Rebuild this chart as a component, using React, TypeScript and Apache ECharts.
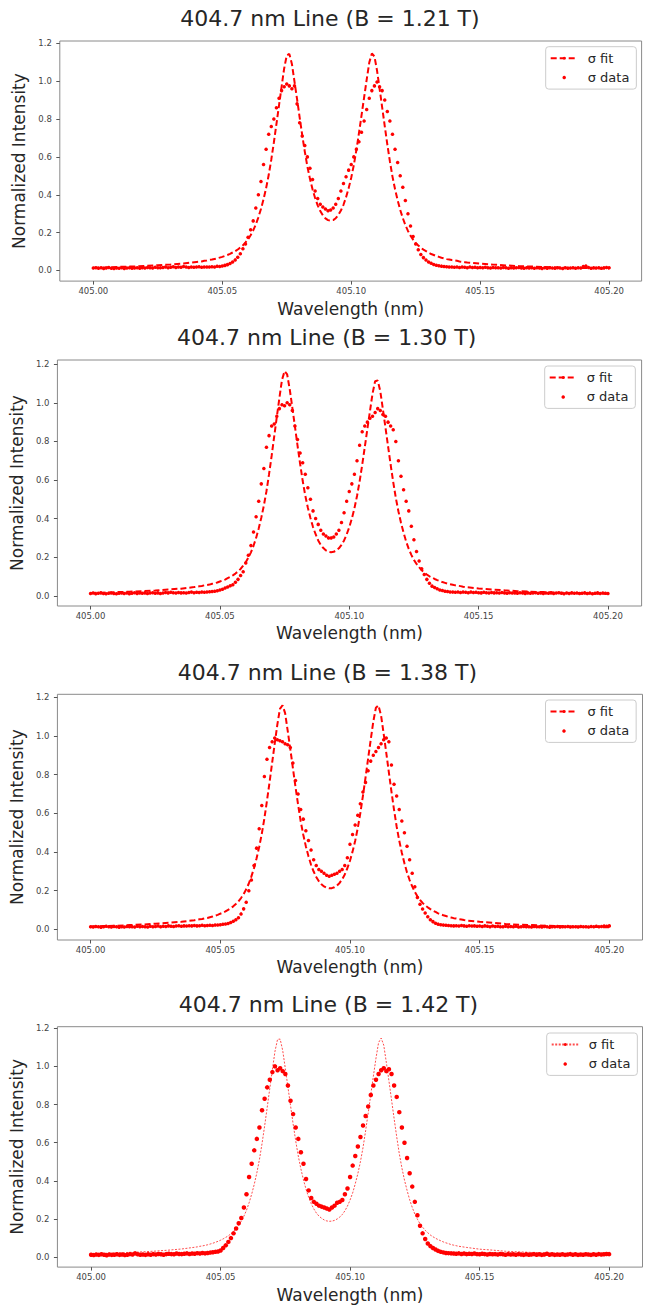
import React, { useEffect, useRef } from "react";
import * as echarts from "echarts";

// ---------- data ----------
const X_START = 405.0; // first spectrometer sample (nm)
const X_STEP = 0.001; // sampling step (nm)

const TITLES = [
  "404.7 nm Line (B = 1.21 T)",
  "404.7 nm Line (B = 1.30 T)",
  "404.7 nm Line (B = 1.38 T)",
  "404.7 nm Line (B = 1.42 T)",
];
const X_TICKS = [405.0, 405.05, 405.1, 405.15, 405.2];
const Y_TICKS = [0, 0.2, 0.4, 0.6, 0.8, 1.0, 1.2];
const X_NAME = "Wavelength (nm)";
const Y_NAME = "Normalized Intensity";
const FIT_NAME = "σ fit";
const DATA_NAME = "σ data";

// fit sample positions, in 0.001 nm from 405.000
const FIT_OFFSETS = [
  0, 5, 10, 15, 20, 25, 30, 35,
  40, 41, 42, 43, 44, 45, 46, 47, 48, 49,
  50, 51, 52, 53, 54, 55, 56, 57, 58, 59,
  60, 61, 62, 63, 64, 65, 66, 67, 68, 69,
  70, 71, 72, 73, 74, 75, 76, 77, 78, 79,
  80, 81, 82, 83, 84, 85, 86, 87, 88, 89,
  90, 91, 92, 93, 94, 95, 96, 97, 98, 99,
  100, 101, 102, 103, 104, 105, 106, 107, 108, 109,
  110, 111, 112, 113, 114, 115, 116, 117, 118, 119,
  120, 121, 122, 123, 124, 125, 126, 127, 128, 129,
  130, 131, 132, 133, 134, 135, 136, 137, 138, 139,
  140, 141, 142, 143, 144, 145,
  150, 155, 160, 165, 170, 175, 180, 185, 190, 195, 200,
];

const FIT_1 = [
  0.015, 0.016, 0.019, 0.021, 0.024, 0.028, 0.032, 0.037,
  0.045, 0.046, 0.048, 0.051, 0.053, 0.056, 0.058, 0.061, 0.064, 0.068,
  0.072, 0.077, 0.082, 0.088, 0.095, 0.102, 0.111, 0.121, 0.133, 0.148,
  0.165, 0.186, 0.212, 0.243, 0.281, 0.325, 0.376, 0.435, 0.504, 0.585,
  0.676, 0.773, 0.872, 0.97, 1.067, 1.136, 1.144, 1.091, 0.998, 0.905,
  0.809, 0.715, 0.628, 0.549, 0.484, 0.429, 0.383, 0.344, 0.314, 0.291,
  0.275, 0.266, 0.264, 0.266, 0.276, 0.293, 0.317, 0.347, 0.387, 0.434,
  0.49, 0.556, 0.636, 0.725, 0.819, 0.914, 1.008, 1.098, 1.146, 1.131,
  1.057, 0.961, 0.862, 0.763, 0.666, 0.576, 0.496, 0.429, 0.371, 0.32,
  0.277, 0.24, 0.209, 0.184, 0.163, 0.146, 0.132, 0.12, 0.11, 0.102,
  0.094, 0.087, 0.082, 0.076, 0.072, 0.067, 0.064, 0.06, 0.058, 0.055,
  0.053, 0.051, 0.048, 0.046, 0.044, 0.042,
  0.036, 0.031, 0.027, 0.023, 0.021, 0.018, 0.016, 0.014, 0.013, 0.012, 0.01,
];
const FIT_2 = [
  0.015, 0.016, 0.019, 0.021, 0.024, 0.027, 0.033, 0.037,
  0.045, 0.047, 0.049, 0.051, 0.054, 0.056, 0.058, 0.062, 0.065, 0.069,
  0.074, 0.079, 0.084, 0.091, 0.098, 0.106, 0.115, 0.126, 0.139, 0.156,
  0.174, 0.198, 0.225, 0.259, 0.3, 0.349, 0.404, 0.468, 0.542, 0.63,
  0.725, 0.826, 0.927, 1.025, 1.119, 1.164, 1.147, 1.07, 0.975, 0.878,
  0.779, 0.685, 0.596, 0.52, 0.456, 0.403, 0.356, 0.319, 0.287, 0.264,
  0.247, 0.235, 0.228, 0.226, 0.228, 0.235, 0.246, 0.264, 0.287, 0.318,
  0.355, 0.4, 0.453, 0.517, 0.592, 0.678, 0.77, 0.864, 0.956, 1.048,
  1.112, 1.116, 1.06, 0.967, 0.872, 0.775, 0.679, 0.589, 0.507, 0.438,
  0.378, 0.327, 0.281, 0.243, 0.212, 0.186, 0.165, 0.148, 0.132, 0.12,
  0.11, 0.101, 0.094, 0.087, 0.081, 0.076, 0.071, 0.067, 0.063, 0.06,
  0.057, 0.054, 0.052, 0.05, 0.047, 0.045,
  0.038, 0.033, 0.028, 0.024, 0.021, 0.019, 0.016, 0.015, 0.013, 0.012, 0.011,
];
const FIT_3 = [
  0.015, 0.017, 0.019, 0.022, 0.025, 0.029, 0.034, 0.039,
  0.047, 0.05, 0.052, 0.054, 0.057, 0.059, 0.063, 0.066, 0.071, 0.075,
  0.081, 0.086, 0.093, 0.101, 0.109, 0.119, 0.131, 0.145, 0.162, 0.182,
  0.207, 0.237, 0.274, 0.316, 0.368, 0.426, 0.494, 0.573, 0.665, 0.761,
  0.862, 0.962, 1.059, 1.14, 1.159, 1.118, 1.026, 0.932, 0.834, 0.736,
  0.645, 0.559, 0.489, 0.429, 0.378, 0.334, 0.299, 0.271, 0.249, 0.233,
  0.222, 0.215, 0.212, 0.213, 0.218, 0.227, 0.24, 0.259, 0.284, 0.316,
  0.355, 0.402, 0.457, 0.523, 0.601, 0.69, 0.785, 0.883, 0.98, 1.074,
  1.146, 1.158, 1.106, 1.011, 0.913, 0.812, 0.712, 0.618, 0.532, 0.459,
  0.396, 0.342, 0.294, 0.255, 0.222, 0.194, 0.171, 0.153, 0.137, 0.124,
  0.114, 0.105, 0.097, 0.09, 0.083, 0.078, 0.073, 0.069, 0.064, 0.061,
  0.058, 0.056, 0.053, 0.051, 0.048, 0.046,
  0.039, 0.034, 0.028, 0.024, 0.022, 0.019, 0.017, 0.015, 0.014, 0.012, 0.011,
];
const FIT_4 = [
  0.018, 0.02, 0.023, 0.025, 0.028, 0.032, 0.037, 0.043,
  0.052, 0.054, 0.057, 0.059, 0.062, 0.065, 0.069, 0.073, 0.078, 0.083,
  0.089, 0.096, 0.104, 0.112, 0.123, 0.135, 0.15, 0.167, 0.189, 0.215,
  0.246, 0.285, 0.33, 0.382, 0.442, 0.512, 0.595, 0.687, 0.785, 0.885,
  0.982, 1.079, 1.142, 1.143, 1.082, 0.988, 0.892, 0.795, 0.699, 0.61,
  0.53, 0.463, 0.405, 0.356, 0.314, 0.28, 0.253, 0.231, 0.215, 0.204,
  0.195, 0.19, 0.188, 0.189, 0.193, 0.2, 0.21, 0.224, 0.243, 0.268,
  0.3, 0.337, 0.385, 0.438, 0.501, 0.575, 0.663, 0.756, 0.853, 0.95,
  1.043, 1.125, 1.148, 1.111, 1.02, 0.924, 0.825, 0.726, 0.631, 0.542,
  0.468, 0.404, 0.35, 0.301, 0.261, 0.226, 0.199, 0.175, 0.157, 0.141,
  0.128, 0.116, 0.107, 0.099, 0.092, 0.086, 0.08, 0.075, 0.071, 0.066,
  0.063, 0.06, 0.057, 0.055, 0.053, 0.051,
  0.042, 0.037, 0.031, 0.028, 0.025, 0.022, 0.02, 0.018, 0.017, 0.015, 0.014,
];

// measured intensities, one per 0.001 nm from 405.000 to 405.200
const DATA_1 = [
  0.013, 0.015, 0.012, 0.014, 0.011, 0.013, 0.016, 0.012, 0.01, 0.013,
  0.012, 0.014, 0.011, 0.013, 0.015, 0.012, 0.013, 0.014, 0.012, 0.015,
  0.013, 0.016, 0.014, 0.013, 0.017, 0.015, 0.014, 0.016, 0.018, 0.015,
  0.017, 0.02, 0.016, 0.019, 0.017, 0.021, 0.018, 0.016, 0.019, 0.017,
  0.018, 0.02, 0.017, 0.019, 0.018,
  0.018, 0.02, 0.019, 0.022, 0.021,
  0.024, 0.027, 0.031, 0.037, 0.045, 0.056, 0.07, 0.088, 0.115, 0.14,
  0.175, 0.215, 0.262, 0.33, 0.4, 0.47, 0.56, 0.64, 0.72, 0.76,
  0.8, 0.86, 0.91, 0.95, 0.97, 0.985, 0.975, 0.96, 0.975, 0.88,
  0.78, 0.71, 0.66, 0.6, 0.54, 0.48, 0.42, 0.38, 0.35, 0.335,
  0.325, 0.315, 0.32, 0.33, 0.35, 0.38, 0.42, 0.46, 0.495, 0.53,
  0.56, 0.6, 0.64, 0.68, 0.73, 0.79, 0.85, 0.91, 0.95, 0.975,
  0.995, 0.97, 0.95, 0.9, 0.84, 0.79, 0.72, 0.64, 0.57, 0.5,
  0.44, 0.37, 0.3, 0.235, 0.18, 0.14, 0.11, 0.085, 0.068, 0.055,
  0.045, 0.038, 0.032, 0.028, 0.025, 0.023, 0.021, 0.02, 0.019, 0.018,
  0.017, 0.018, 0.016, 0.019, 0.017, 0.015, 0.018, 0.016, 0.017, 0.015,
  0.016, 0.014, 0.017, 0.015, 0.013, 0.016, 0.014, 0.015, 0.013, 0.016,
  0.014, 0.012, 0.015, 0.013, 0.014, 0.016, 0.013, 0.012, 0.015, 0.013,
  0.014, 0.012, 0.015, 0.013, 0.011, 0.014, 0.012, 0.015, 0.013, 0.012,
  0.014, 0.013, 0.011, 0.014, 0.012, 0.013, 0.015, 0.012, 0.014, 0.013,
  0.021, 0.024, 0.016, 0.012, 0.014, 0.013, 0.015, 0.012, 0.014, 0.016, 0.015,
];
const DATA_2 = [
  0.012, 0.014, 0.011, 0.013, 0.015, 0.012, 0.01, 0.013, 0.014, 0.012,
  0.011, 0.013, 0.015, 0.012, 0.014, 0.011, 0.013, 0.016, 0.012, 0.014,
  0.013, 0.015, 0.012, 0.014, 0.016, 0.013, 0.015, 0.012, 0.014, 0.017,
  0.015, 0.018, 0.016, 0.014, 0.017, 0.015, 0.016, 0.014, 0.017, 0.019,
  0.016, 0.018, 0.017, 0.019, 0.018,
  0.02, 0.021, 0.022, 0.024, 0.026,
  0.03, 0.034, 0.04, 0.046, 0.052, 0.057, 0.07, 0.085, 0.105, 0.125,
  0.17, 0.21, 0.26, 0.33, 0.41, 0.49, 0.58, 0.66, 0.77, 0.83,
  0.88, 0.89, 0.93, 0.97, 0.99, 0.985, 1.0, 0.99, 0.96, 0.88,
  0.81, 0.74, 0.69, 0.63, 0.56, 0.5, 0.44, 0.4, 0.37, 0.34,
  0.32, 0.31, 0.3, 0.3, 0.305, 0.32, 0.34, 0.38, 0.43, 0.49,
  0.54, 0.58, 0.63, 0.7, 0.78, 0.85, 0.88, 0.9, 0.92, 0.93,
  0.95, 0.97, 0.96, 0.94, 0.93, 0.9, 0.88, 0.86, 0.8, 0.7,
  0.62, 0.55, 0.49, 0.44, 0.36, 0.29, 0.23, 0.18, 0.14, 0.11,
  0.085, 0.065, 0.05, 0.043, 0.036, 0.03, 0.027, 0.024, 0.022, 0.02,
  0.019, 0.018, 0.02, 0.017, 0.019, 0.018, 0.016, 0.019, 0.017, 0.018,
  0.016, 0.015, 0.018, 0.016, 0.014, 0.017, 0.015, 0.016, 0.014, 0.017,
  0.015, 0.013, 0.016, 0.014, 0.015, 0.013, 0.016, 0.014, 0.012, 0.015,
  0.013, 0.014, 0.016, 0.013, 0.015, 0.012, 0.014, 0.013, 0.015, 0.012,
  0.014, 0.016, 0.013, 0.011, 0.014, 0.012, 0.015, 0.013, 0.014, 0.012,
  0.013, 0.015, 0.012, 0.014, 0.011, 0.013, 0.015, 0.012, 0.014, 0.013, 0.012,
];
const DATA_3 = [
  0.014, 0.012, 0.015, 0.013, 0.011, 0.014, 0.016, 0.013, 0.012, 0.015,
  0.013, 0.011, 0.014, 0.012, 0.015, 0.013, 0.014, 0.012, 0.016, 0.013,
  0.015, 0.014, 0.012, 0.016, 0.014, 0.015, 0.017, 0.014, 0.016, 0.015,
  0.018, 0.016, 0.015, 0.017, 0.019, 0.016, 0.018, 0.017, 0.019, 0.018,
  0.02, 0.018, 0.019, 0.021, 0.019,
  0.02, 0.021, 0.02, 0.022, 0.023,
  0.024, 0.026, 0.028, 0.03, 0.036, 0.042, 0.05, 0.06, 0.08, 0.106,
  0.14, 0.2, 0.255, 0.33, 0.42, 0.52, 0.64, 0.79, 0.88, 0.94,
  0.97, 0.99, 0.98, 0.975, 0.97, 0.96, 0.955, 0.94, 0.86, 0.77,
  0.7, 0.62, 0.57, 0.51, 0.46, 0.41, 0.36, 0.33, 0.31, 0.3,
  0.29, 0.28, 0.275, 0.28, 0.285, 0.29, 0.3, 0.31, 0.33, 0.37,
  0.44, 0.49, 0.54, 0.59, 0.65, 0.71, 0.76, 0.82, 0.87, 0.9,
  0.92, 0.94, 0.96, 0.98, 0.99, 0.97, 0.85, 0.75, 0.69, 0.62,
  0.56, 0.5, 0.43, 0.36, 0.29, 0.22, 0.165, 0.13, 0.105, 0.085,
  0.065, 0.05, 0.04, 0.032, 0.027, 0.024, 0.022, 0.021, 0.02, 0.019,
  0.018, 0.019, 0.017, 0.02, 0.018, 0.016, 0.019, 0.017, 0.018, 0.016,
  0.017, 0.015, 0.018, 0.016, 0.014, 0.017, 0.015, 0.016, 0.014, 0.013,
  0.016, 0.014, 0.015, 0.013, 0.016, 0.012, 0.014, 0.015, 0.013, 0.014,
  0.012, 0.015, 0.013, 0.014, 0.012, 0.015, 0.013, 0.011, 0.014, 0.013,
  0.015, 0.012, 0.014, 0.013, 0.015, 0.012, 0.013, 0.014, 0.012, 0.015,
  0.013, 0.014, 0.012, 0.015, 0.013, 0.016, 0.014, 0.015, 0.017, 0.016, 0.018,
];
const DATA_4 = [
  0.013, 0.011, 0.014, 0.012, 0.015, 0.013, 0.01, 0.014, 0.012, 0.013,
  0.015, 0.012, 0.014, 0.011, 0.013, 0.016, 0.014, 0.02, 0.015, 0.013,
  0.014, 0.012, 0.015, 0.013, 0.016, 0.014, 0.017, 0.015, 0.013, 0.016,
  0.018, 0.016, 0.015, 0.019, 0.017, 0.016, 0.018, 0.02, 0.017, 0.019,
  0.018, 0.021, 0.019, 0.022, 0.02,
  0.022, 0.024, 0.026, 0.028, 0.03,
  0.035, 0.048, 0.062, 0.08, 0.1, 0.125, 0.15, 0.178, 0.205, 0.26,
  0.33, 0.42, 0.49, 0.56, 0.62, 0.68, 0.77, 0.83, 0.89, 0.93,
  0.97, 1.0, 0.98, 0.99, 0.975, 0.96, 0.9, 0.82, 0.75, 0.68,
  0.62, 0.55, 0.49, 0.41, 0.35, 0.31, 0.29, 0.28, 0.27, 0.265,
  0.26, 0.255, 0.25, 0.26, 0.27, 0.285, 0.29, 0.3, 0.33, 0.36,
  0.42, 0.48, 0.53, 0.58, 0.63, 0.69, 0.74, 0.79, 0.85, 0.9,
  0.93, 0.96, 0.98, 0.99, 0.975, 0.985, 0.96, 0.9, 0.84, 0.76,
  0.68, 0.6, 0.52, 0.44, 0.37, 0.29, 0.22, 0.165, 0.125, 0.095,
  0.072, 0.058, 0.048, 0.04, 0.033, 0.028, 0.025, 0.022, 0.021, 0.02,
  0.019, 0.018, 0.02, 0.017, 0.019, 0.016, 0.018, 0.017, 0.019, 0.016,
  0.015, 0.018, 0.016, 0.014, 0.017, 0.015, 0.016, 0.014, 0.017, 0.015,
  0.013, 0.016, 0.014, 0.015, 0.013, 0.016, 0.014, 0.012, 0.015, 0.013,
  0.014, 0.016, 0.013, 0.015, 0.012, 0.014, 0.018, 0.013, 0.015, 0.012,
  0.014, 0.013, 0.015, 0.012, 0.014, 0.016, 0.013, 0.015, 0.012, 0.014,
  0.013, 0.015, 0.014, 0.012, 0.015, 0.013, 0.016, 0.014, 0.015, 0.017, 0.016,
];

const FITS = [FIT_1, FIT_2, FIT_3, FIT_4];
const DATAS = [DATA_1, DATA_2, DATA_3, DATA_4];

// ---------- layout (page pixels) ----------
type Layout = {
  top: number; height: number; titleX: number; titleY: number;
  gl: number; gt: number; gr: number; gb: number;
  xMin: number; xMax: number; yMin: number; yMax: number;
  legL: number; legT: number; yNameX: number; xNameY: number;
  fitWidth: number; fitDash: number[]; fitOpacity: number; dot: number;
};
const LAYOUTS: Layout[] = [
  { top: 0, height: 322, titleX: 330, titleY: 18, gl: 59.8, gt: 41, gr: 641.6, gb: 283.3,
    xMin: 404.987, xMax: 405.2126, yMin: -0.056, yMax: 1.212, legL: 545.7, legT: 46.7,
    yNameX: 24.8, xNameY: 308.3, fitWidth: 2, fitDash: [6, 3], fitOpacity: 1, dot: 3.5 },
  { top: 322, height: 333, titleX: 326.6, titleY: 337.5, gl: 52.4, gt: 360, gr: 641.6, gb: 606,
    xMin: 404.9872, xMax: 405.213, yMin: -0.053, yMax: 1.222, legL: 544.7, legT: 366,
    yNameX: 17.7, xNameY: 631.7, fitWidth: 2, fitDash: [6, 3], fitOpacity: 1, dot: 3.5 },
  { top: 655, height: 330, titleX: 327.4, titleY: 672.7, gl: 52.4, gt: 694.3, gr: 642.5, gb: 940,
    xMin: 404.9872, xMax: 405.2128, yMin: -0.055, yMax: 1.2155, legL: 545.5, legT: 700,
    yNameX: 18.6, xNameY: 965, fitWidth: 2, fitDash: [6, 3], fitOpacity: 1, dot: 3.5 },
  { top: 985, height: 323, titleX: 328.5, titleY: 1004, gl: 54.9, gt: 1026.7, gr: 642.5, gb: 1269.3,
    xMin: 404.987, xMax: 405.2129, yMin: -0.052, yMax: 1.208, legL: 546.7, legT: 1033,
    yNameX: 21, xNameY: 1295, fitWidth: 1, fitDash: [2, 1.5], fitOpacity: 0.7, dot: 4.5 },
];

const FONT = "'DejaVu Sans', 'Noto Sans', sans-serif";
const RED = "#ff0000";
const TEXT = "#262626";

function Panel({ idx }: { idx: number }) {
  const ref = useRef<HTMLDivElement>(null);
  const L = LAYOUTS[idx];
  useEffect(() => {
    if (!ref.current) return;
    const chart = echarts.init(ref.current, null, { renderer: "svg" });
    const T = L.top;
    const dataPts = DATAS[idx].map((v, i) => [X_START + i * X_STEP, v]);
    const fitPts = FITS[idx].map((v, i) => [X_START + FIT_OFFSETS[i] * X_STEP, v]);
    const nameFont = 17;
    chart.setOption({
      animation: false,
      title: {
        text: TITLES[idx],
        left: L.titleX,
        top: L.titleY - T - 11,
        textAlign: "center",
        padding: 0,
        textStyle: { fontFamily: FONT, fontSize: 22, fontWeight: "normal", color: TEXT },
      },
      grid: {
        left: L.gl, top: L.gt - T, width: L.gr - L.gl, height: L.gb - L.gt,
        show: true, borderColor: "#8a8a8a", borderWidth: 1, backgroundColor: "transparent",
        containLabel: false,
      },
      legend: {
        orient: "vertical",
        left: L.legL,
        top: L.legT - T,
        padding: [5, 7, 5, 4],
        itemWidth: 27,
        itemHeight: 3.5,
        itemGap: 6.4,
        selectedMode: false,
        backgroundColor: "rgba(255,255,255,0.85)",
        borderColor: "#cccccc",
        borderWidth: 1,
        borderRadius: 3,
        textStyle: { fontFamily: FONT, fontSize: 13, color: TEXT, padding: [0, 0, 0, 5] },
        data: [FIT_NAME, DATA_NAME],
      },
      xAxis: {
        type: "value",
        min: L.xMin,
        max: L.xMax,
        splitLine: { show: false },
        axisLine: { show: false, onZero: false },
        axisTick: { show: true, inside: false, length: 3.5, lineStyle: { color: "#555" }, customValues: X_TICKS },
        axisLabel: {
          customValues: X_TICKS,
          formatter: (v: number) => v.toFixed(2),
          fontSize: 8.5, color: "#444", margin: 5, fontFamily: FONT,
        },
        name: X_NAME,
        nameLocation: "middle",
        nameGap: L.xNameY - L.gb - nameFont / 2,
        nameTextStyle: { fontSize: nameFont, color: TEXT, fontFamily: FONT },
      },
      yAxis: {
        type: "value",
        min: L.yMin,
        max: L.yMax,
        splitLine: { show: false },
        axisLine: { show: false, onZero: false },
        axisTick: { show: true, inside: false, length: 3.5, lineStyle: { color: "#555" }, customValues: Y_TICKS },
        axisLabel: {
          customValues: Y_TICKS,
          formatter: (v: number) => v.toFixed(1),
          fontSize: 8.5, color: "#444", margin: 8, fontFamily: FONT,
        },
        name: Y_NAME,
        nameLocation: "middle",
        nameGap: L.gl - L.yNameX - nameFont / 2,
        nameTextStyle: { fontSize: nameFont, color: TEXT, fontFamily: FONT },
      },
      series: [
        {
          name: FIT_NAME,
          type: "line",
          data: fitPts,
          symbol: "none",
          showSymbol: false,
          clip: true,
          z: 2,
          itemStyle: { color: RED },
          lineStyle: { color: RED, width: L.fitWidth, type: L.fitDash, opacity: L.fitOpacity },
        },
        {
          name: DATA_NAME,
          type: "scatter",
          data: dataPts,
          symbol: "circle",
          symbolSize: L.dot,
          clip: true,
          z: 3,
          itemStyle: { color: RED, opacity: 1 },
        },
      ],
    });
    return () => chart.dispose();
  }, [idx]);
  return (
    <div
      ref={ref}
      style={{ position: "absolute", left: 0, top: L.top, width: 647, height: L.height }}
    />
  );
}

export default function App() {
  return (
    <div style={{ position: "absolute", left: 0, top: 0, width: 647, height: 1308, background: "#fff" }}>
      {LAYOUTS.map((_, i) => (
        <Panel key={i} idx={i} />
      ))}
    </div>
  );
}
